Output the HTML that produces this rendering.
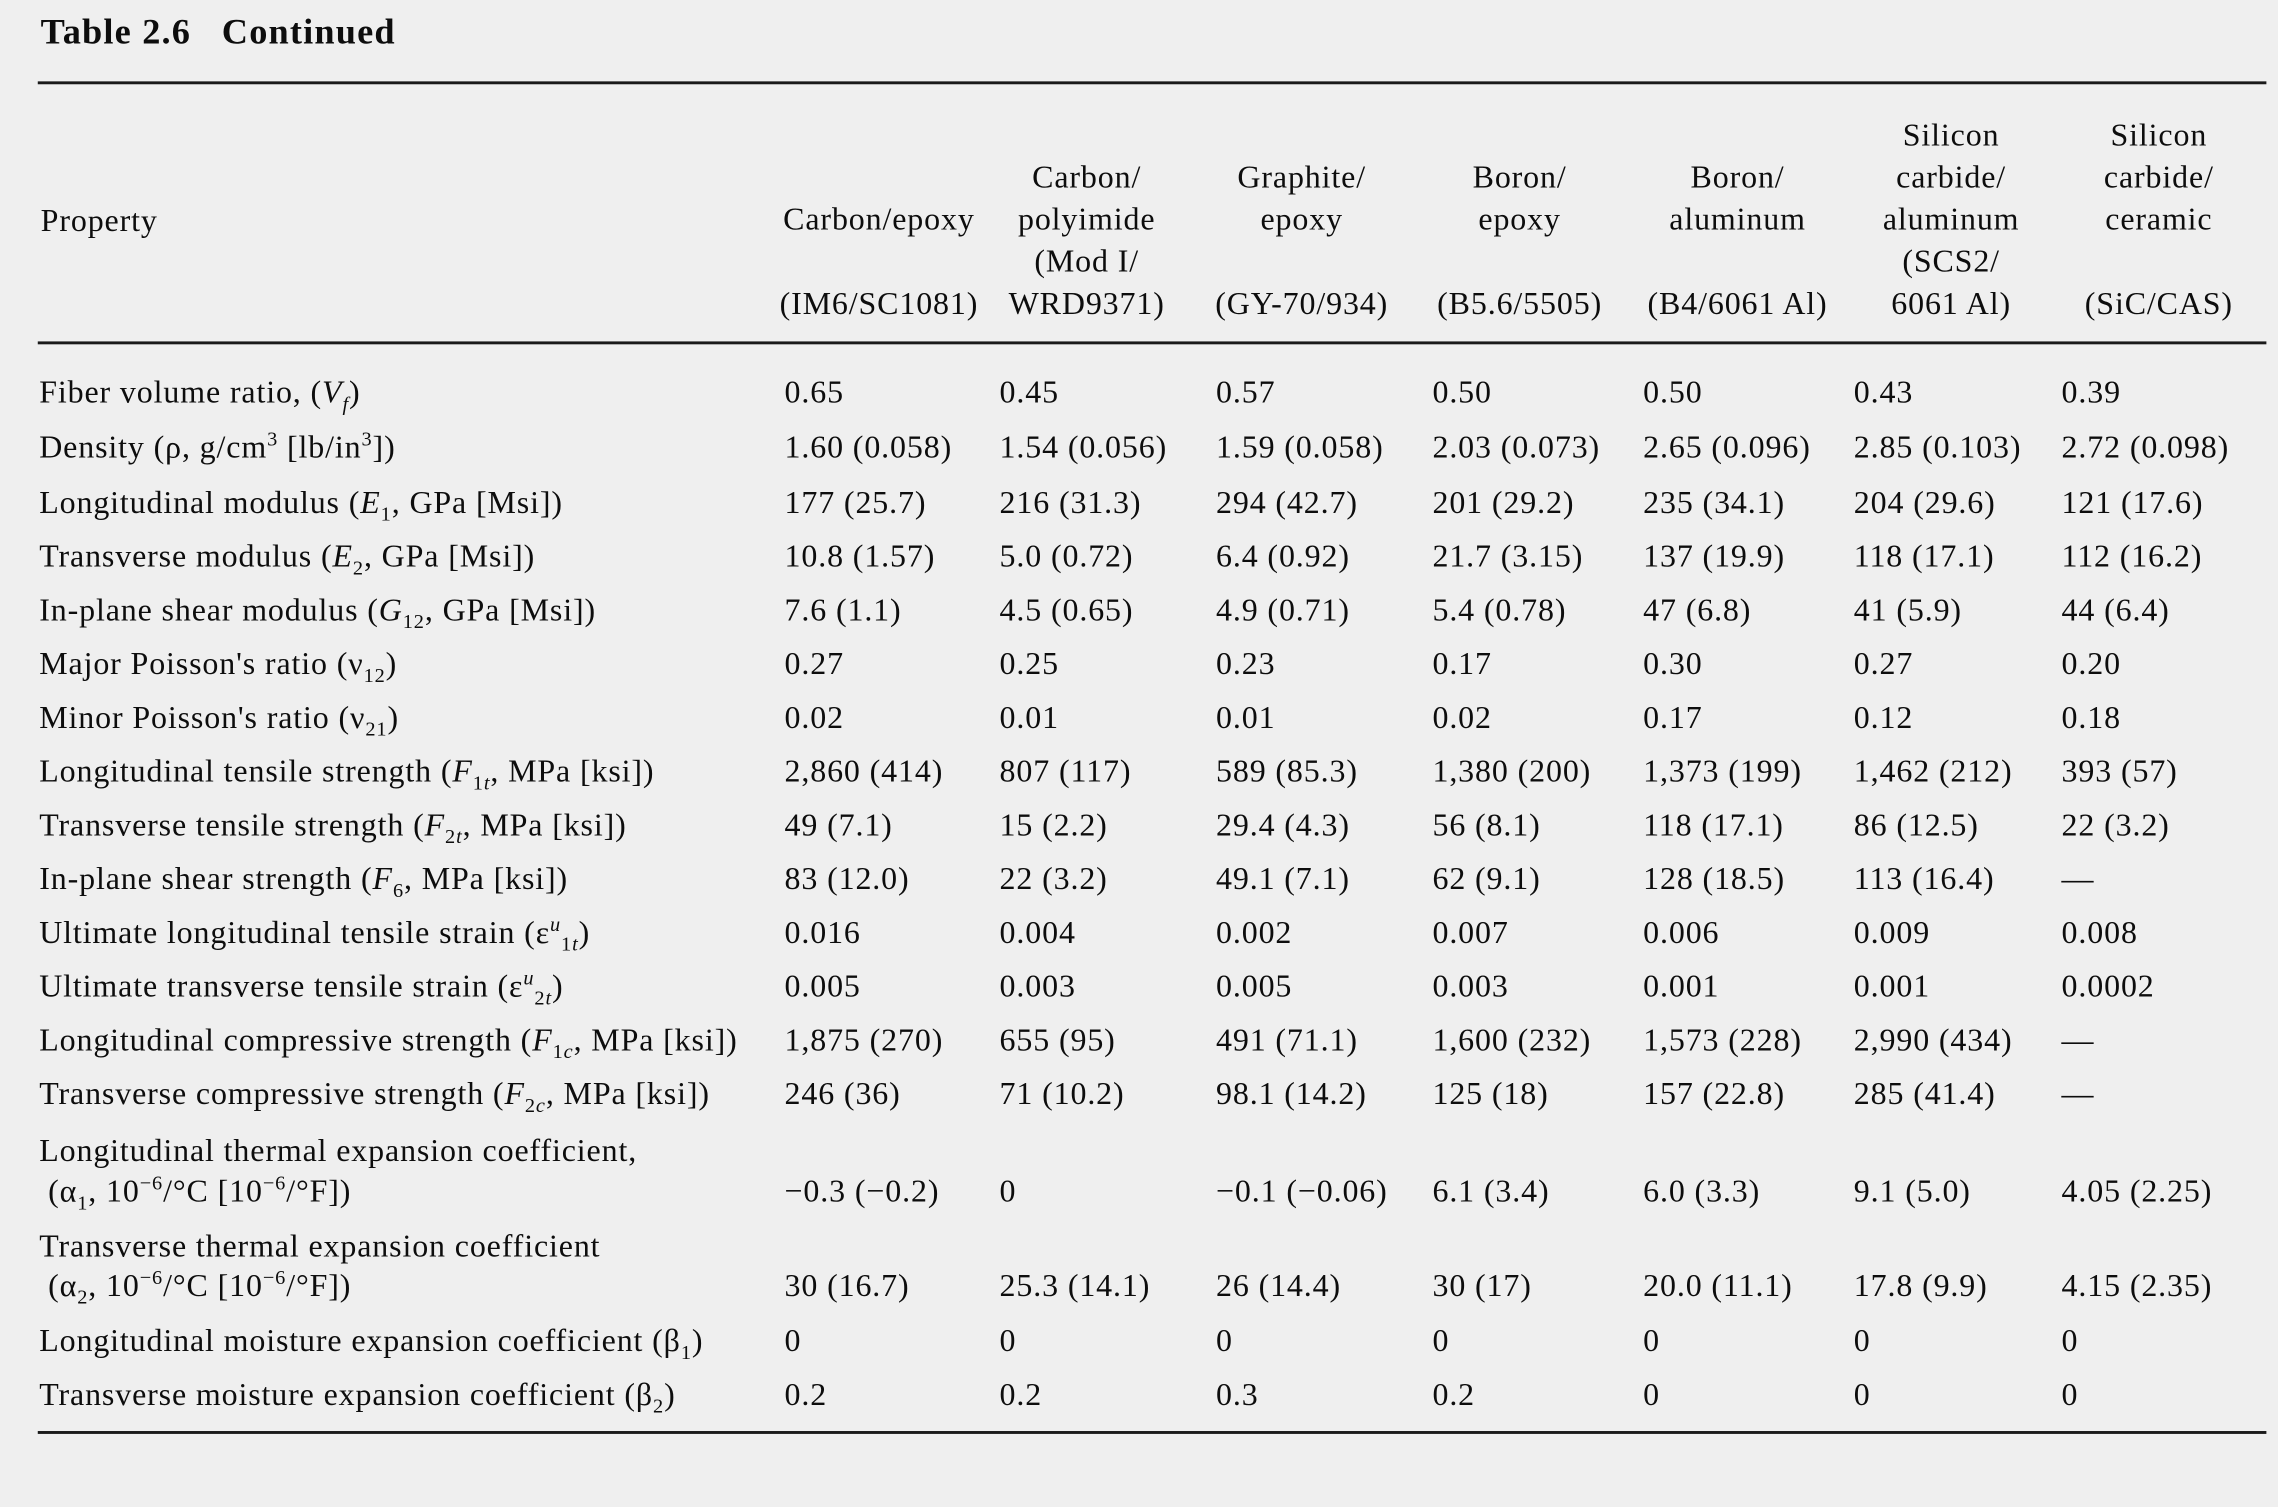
<!DOCTYPE html>
<html><head><meta charset="utf-8">
<style>
html,body{margin:0;padding:0;background:#efefef;}
body{width:2278px;height:1506px;overflow:hidden;position:relative;}
#w{position:absolute;left:0;top:0;width:1568px;height:1037px;transform:scale(1.45281);transform-origin:0 0;font-family:"Liberation Serif",serif;color:#0d0d0d;font-size:22px;letter-spacing:0.6px;}
.t{position:absolute;left:28px;top:9px;font-weight:bold;font-size:25px;letter-spacing:0.8px;}
.rule{position:absolute;left:26px;width:1534px;background:#1a1a1a;}
.h{position:absolute;top:78px;width:200px;margin-left:-100px;text-align:center;line-height:29px;}
.r{position:absolute;left:0;width:1568px;height:24px;line-height:24px;}
.r span{position:absolute;white-space:nowrap;}
.r span:nth-child(1){left:27px}
.r span:nth-child(2){left:540px}
.r span:nth-child(3){left:688px}
.r span:nth-child(4){left:837px}
.r span:nth-child(5){left:986px}
.r span:nth-child(6){left:1131px}
.r span:nth-child(7){left:1276px}
.r span:nth-child(8){left:1419px}
sub,sup{font-size:14px;line-height:0;}
i{font-style:italic}
.two{position:absolute;left:27px;line-height:28px;}
</style></head><body><div id="w">
<div class="t">Table 2.6&nbsp;&nbsp;&nbsp;Continued</div>
<div class="rule" style="top:56px;height:2px"></div>
<div style="position:absolute;left:28px;top:139px;">Property</div>
<div class="h" style="left:605px">&nbsp;<br>&nbsp;<br>Carbon/epoxy<br>&nbsp;<br>(IM6/SC1081)</div>
<div class="h" style="left:748px">&nbsp;<br>Carbon/<br>polyimide<br>(Mod I/<br>WRD9371)</div>
<div class="h" style="left:896px">&nbsp;<br>Graphite/<br>epoxy<br>&nbsp;<br>(GY-70/934)</div>
<div class="h" style="left:1046px">&nbsp;<br>Boron/<br>epoxy<br>&nbsp;<br>(B5.6/5505)</div>
<div class="h" style="left:1196px">&nbsp;<br>Boron/<br>aluminum<br>&nbsp;<br>(B4/6061 Al)</div>
<div class="h" style="left:1343px">Silicon<br>carbide/<br>aluminum<br>(SCS2/<br>6061 Al)</div>
<div class="h" style="left:1486px">Silicon<br>carbide/<br>ceramic<br>&nbsp;<br>(SiC/CAS)</div>
<div class="rule" style="top:235px;height:2px"></div>

<div class="r" style="top:258px"><span>Fiber volume ratio, (<i>V<sub>f</sub></i>)</span><span>0.65</span><span>0.45</span><span>0.57</span><span>0.50</span><span>0.50</span><span>0.43</span><span>0.39</span></div>
<div class="r" style="top:296px"><span>Density (ρ, g/cm<sup>3</sup> [lb/in<sup>3</sup>])</span><span>1.60 (0.058)</span><span>1.54 (0.056)</span><span>1.59 (0.058)</span><span>2.03 (0.073)</span><span>2.65 (0.096)</span><span>2.85 (0.103)</span><span>2.72 (0.098)</span></div>
<div class="r" style="top:334px"><span>Longitudinal modulus (<i>E</i><sub>1</sub>, GPa [Msi])</span><span>177 (25.7)</span><span>216 (31.3)</span><span>294 (42.7)</span><span>201 (29.2)</span><span>235 (34.1)</span><span>204 (29.6)</span><span>121 (17.6)</span></div>
<div class="r" style="top:371px"><span>Transverse modulus (<i>E</i><sub>2</sub>, GPa [Msi])</span><span>10.8 (1.57)</span><span>5.0 (0.72)</span><span>6.4 (0.92)</span><span>21.7 (3.15)</span><span>137 (19.9)</span><span>118 (17.1)</span><span>112 (16.2)</span></div>
<div class="r" style="top:408px"><span>In-plane shear modulus (<i>G</i><sub>12</sub>, GPa [Msi])</span><span>7.6 (1.1)</span><span>4.5 (0.65)</span><span>4.9 (0.71)</span><span>5.4 (0.78)</span><span>47 (6.8)</span><span>41 (5.9)</span><span>44 (6.4)</span></div>
<div class="r" style="top:445px"><span>Major Poisson's ratio (ν<sub>12</sub>)</span><span>0.27</span><span>0.25</span><span>0.23</span><span>0.17</span><span>0.30</span><span>0.27</span><span>0.20</span></div>
<div class="r" style="top:482px"><span>Minor Poisson's ratio (ν<sub>21</sub>)</span><span>0.02</span><span>0.01</span><span>0.01</span><span>0.02</span><span>0.17</span><span>0.12</span><span>0.18</span></div>
<div class="r" style="top:519px"><span>Longitudinal tensile strength (<i>F</i><sub>1<i>t</i></sub>, MPa [ksi])</span><span>2,860 (414)</span><span>807 (117)</span><span>589 (85.3)</span><span>1,380 (200)</span><span>1,373 (199)</span><span>1,462 (212)</span><span>393 (57)</span></div>
<div class="r" style="top:556px"><span>Transverse tensile strength (<i>F</i><sub>2<i>t</i></sub>, MPa [ksi])</span><span>49 (7.1)</span><span>15 (2.2)</span><span>29.4 (4.3)</span><span>56 (8.1)</span><span>118 (17.1)</span><span>86 (12.5)</span><span>22 (3.2)</span></div>
<div class="r" style="top:593px"><span>In-plane shear strength (<i>F</i><sub>6</sub>, MPa [ksi])</span><span>83 (12.0)</span><span>22 (3.2)</span><span>49.1 (7.1)</span><span>62 (9.1)</span><span>128 (18.5)</span><span>113 (16.4)</span><span>—</span></div>
<div class="r" style="top:630px"><span>Ultimate longitudinal tensile strain (ε<sup><i>u</i></sup><sub>1<i>t</i></sub>)</span><span>0.016</span><span>0.004</span><span>0.002</span><span>0.007</span><span>0.006</span><span>0.009</span><span>0.008</span></div>
<div class="r" style="top:667px"><span>Ultimate transverse tensile strain (ε<sup><i>u</i></sup><sub>2<i>t</i></sub>)</span><span>0.005</span><span>0.003</span><span>0.005</span><span>0.003</span><span>0.001</span><span>0.001</span><span>0.0002</span></div>
<div class="r" style="top:704px"><span>Longitudinal compressive strength (<i>F</i><sub>1<i>c</i></sub>, MPa [ksi])</span><span>1,875 (270)</span><span>655 (95)</span><span>491 (71.1)</span><span>1,600 (232)</span><span>1,573 (228)</span><span>2,990 (434)</span><span>—</span></div>
<div class="r" style="top:741px"><span>Transverse compressive strength (<i>F</i><sub>2<i>c</i></sub>, MPa [ksi])</span><span>246 (36)</span><span>71 (10.2)</span><span>98.1 (14.2)</span><span>125 (18)</span><span>157 (22.8)</span><span>285 (41.4)</span><span>—</span></div>
<div class="two" style="top:778px">Longitudinal thermal expansion coefficient,</div>
<div class="r" style="top:808px"><span>&nbsp;(α<sub>1</sub>, 10<sup>−6</sup>/°C [10<sup>−6</sup>/°F])</span><span>−0.3 (−0.2)</span><span>0</span><span>−0.1 (−0.06)</span><span>6.1 (3.4)</span><span>6.0 (3.3)</span><span>9.1 (5.0)</span><span>4.05 (2.25)</span></div>
<div class="two" style="top:844px">Transverse thermal expansion coefficient</div>
<div class="r" style="top:873px"><span>&nbsp;(α<sub>2</sub>, 10<sup>−6</sup>/°C [10<sup>−6</sup>/°F])</span><span>30 (16.7)</span><span>25.3 (14.1)</span><span>26 (14.4)</span><span>30 (17)</span><span>20.0 (11.1)</span><span>17.8 (9.9)</span><span>4.15 (2.35)</span></div>
<div class="r" style="top:911px"><span>Longitudinal moisture expansion coefficient (β<sub>1</sub>)</span><span>0</span><span>0</span><span>0</span><span>0</span><span>0</span><span>0</span><span>0</span></div>
<div class="r" style="top:948px"><span>Transverse moisture expansion coefficient (β<sub>2</sub>)</span><span>0.2</span><span>0.2</span><span>0.3</span><span>0.2</span><span>0</span><span>0</span><span>0</span></div>
<div class="rule" style="top:985px;height:2px"></div>
</div></body></html>
